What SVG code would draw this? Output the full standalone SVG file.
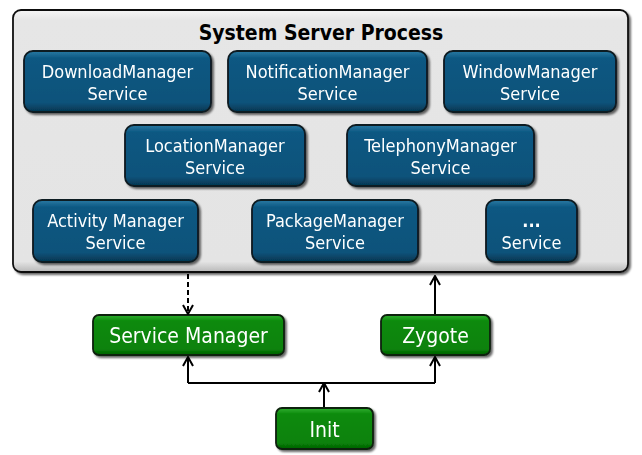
<svg xmlns="http://www.w3.org/2000/svg" width="642" height="455" viewBox="0 0 642 455">
<defs>
<linearGradient id="gBlue" x1="0" y1="0" x2="0" y2="1">
<stop offset="0" stop-color="#2a7aa4"/><stop offset="0.12" stop-color="#0c5882"/><stop offset="0.85" stop-color="#0a527a"/><stop offset="1" stop-color="#05354f"/>
</linearGradient>
<linearGradient id="gGreen" x1="0" y1="0" x2="0" y2="1">
<stop offset="0" stop-color="#30b030"/><stop offset="0.15" stop-color="#0b8a0b"/><stop offset="0.85" stop-color="#088208"/><stop offset="1" stop-color="#045e04"/>
</linearGradient>
<linearGradient id="gGray" x1="0" y1="0" x2="0" y2="1">
<stop offset="0" stop-color="#f6f6f6"/><stop offset="0.04" stop-color="#e6e6e6"/><stop offset="0.96" stop-color="#e4e4e4"/><stop offset="1" stop-color="#b8b8b8"/>
</linearGradient>
<filter id="sh" x="-10%" y="-10%" width="120%" height="130%">
<feGaussianBlur in="SourceAlpha" stdDeviation="1.2"/><feOffset dx="1.5" dy="2" result="b"/>
<feComponentTransfer><feFuncA type="linear" slope="0.6"/></feComponentTransfer>
<feMerge><feMergeNode/><feMergeNode in="SourceGraphic"/></feMerge>
</filter>
<marker id="arr" viewBox="0 0 12 12" refX="11" refY="6" markerWidth="12" markerHeight="12" markerUnits="userSpaceOnUse" orient="auto">
<path d="M2,1 L11,6 L2,11" fill="none" stroke="#000" stroke-width="2"/>
</marker>
<style>
.blue{fill:url(#gBlue);stroke:#101a20;stroke-width:1.8}
.green{fill:url(#gGreen);stroke:#0c200c;stroke-width:1.8}
.bt{font-family:"DejaVu Sans Condensed","DejaVu Sans",sans-serif;font-stretch:condensed;font-size:18px;fill:#fff;text-anchor:middle}
.gt{font-family:"DejaVu Sans Condensed","DejaVu Sans",sans-serif;font-stretch:condensed;font-size:21px;fill:#fff;text-anchor:middle}
.ln{fill:none;stroke:#000;stroke-width:2}
</style>
</defs>
<g id="system-server">
<rect x="13" y="10" width="615" height="262" rx="8" fill="url(#gGray)" stroke="#111" stroke-width="1.8" filter="url(#sh)"/>
<text x="321" y="40" font-family="DejaVu Sans Condensed,DejaVu Sans,sans-serif" font-stretch="condensed" font-weight="bold" font-size="21" text-anchor="middle" fill="#000">System Server Process</text>
</g>
<g id="download" filter="url(#sh)"><rect class="blue" x="24" y="51" width="187" height="61" rx="9"/><text class="bt" x="117.5" y="78">DownloadManager</text><text class="bt" x="117.5" y="100">Service</text></g>
<g id="notification" filter="url(#sh)"><rect class="blue" x="228" y="51" width="199" height="61" rx="9"/><text class="bt" x="327.5" y="78">NotificationManager</text><text class="bt" x="327.5" y="100">Service</text></g>
<g id="window" filter="url(#sh)"><rect class="blue" x="444" y="51" width="172" height="61" rx="9"/><text class="bt" x="530" y="78">WindowManager</text><text class="bt" x="530" y="100">Service</text></g>
<g id="location" filter="url(#sh)"><rect class="blue" x="125" y="125" width="180" height="61" rx="9"/><text class="bt" x="215" y="152">LocationManager</text><text class="bt" x="215" y="174">Service</text></g>
<g id="telephony" filter="url(#sh)"><rect class="blue" x="347" y="125" width="187" height="61" rx="9"/><text class="bt" x="440.5" y="152">TelephonyManager</text><text class="bt" x="440.5" y="174">Service</text></g>
<g id="activity" filter="url(#sh)"><rect class="blue" x="33" y="200" width="165" height="62" rx="9"/><text class="bt" x="115.5" y="227">Activity Manager</text><text class="bt" x="115.5" y="249">Service</text></g>
<g id="package" filter="url(#sh)"><rect class="blue" x="252" y="200" width="166" height="62" rx="9"/><text class="bt" x="335" y="227">PackageManager</text><text class="bt" x="335" y="249">Service</text></g>
<g id="other" filter="url(#sh)"><rect class="blue" x="486" y="200" width="91" height="62" rx="9"/><text class="bt" x="531.5" y="227" font-weight="bold">...</text><text class="bt" x="531.5" y="249">Service</text></g>
<g id="service-manager" filter="url(#sh)"><rect class="green" x="93" y="315" width="191" height="40" rx="6"/><text class="gt" x="188.5" y="343">Service Manager</text></g>
<g id="zygote" filter="url(#sh)"><rect class="green" x="381" y="315" width="109" height="40" rx="6"/><text class="gt" x="435.5" y="343">Zygote</text></g>
<g id="init" filter="url(#sh)"><rect class="green" x="276" y="408" width="97" height="41" rx="6"/><text class="gt" x="324.5" y="437">Init</text></g>
<g id="connectors">
<line class="ln" x1="188" y1="274" x2="188" y2="314" stroke-dasharray="5,3" marker-end="url(#arr)"/>
<line class="ln" x1="435" y1="314" x2="435" y2="276" marker-end="url(#arr)"/>
<line class="ln" x1="324" y1="407" x2="324" y2="383" marker-end="url(#arr)"/>
<polyline class="ln" points="188,383 435,383"/>
<line class="ln" x1="188" y1="383" x2="188" y2="357" marker-end="url(#arr)"/>
<line class="ln" x1="435" y1="383" x2="435" y2="357" marker-end="url(#arr)"/>
</g>
</svg>
